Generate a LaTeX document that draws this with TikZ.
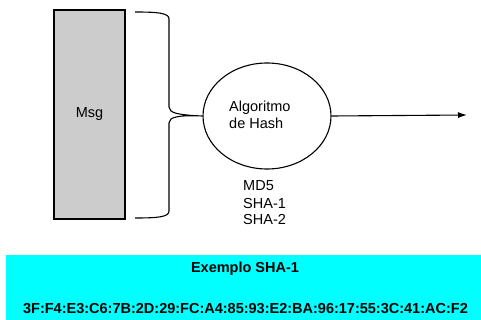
\documentclass[tikz,border=0pt]{standalone}
\usepackage{fontspec}
\setmainfont{Liberation Sans}
\usetikzlibrary{shapes.geometric,arrows.meta}
\definecolor{msggray}{HTML}{CCCCCC}
\definecolor{boxcyan}{HTML}{00FFFF}
\tikzset{
  every node/.style={font=\fontsize{14.5}{17}\selectfont, inner sep=0pt},
  ln/.style={line width=1.1pt, draw=black},
}
\begin{document}
\begin{tikzpicture}[x=1pt,y=-1pt]
\useasboundingbox (0,0) rectangle (481,320);

% message block
\node[ln, fill=msggray, minimum width=71pt, minimum height=209pt] (msg) at (89.5,114.5) {Msg};

% hash algorithm (multi-line nodes are placed by the baseline of their last line)
\node[ln, ellipse, minimum width=128pt, minimum height=106pt] (hash) at (267,116) {};
\node[anchor=base west, align=left] (alg) at (229,129) {Algoritmo\\de Hash};
\node[anchor=base west, align=left] (algs) at (243,225) {MD5\\SHA-1\\SHA-2};

% brace gathering the message into the algorithm
\coordinate (bt) at (135,12);
\coordinate (bb) at (135,218);
\draw[ln] (bt) .. controls (158,12) and (169,13) .. (169,19)
  -- (169,107) .. controls (169,113) and (178,115) .. (hash.west)
  .. controls (178,115) and (169,117) .. (169,123)
  -- (169,211) .. controls (169,217) and (158,218) .. (bb);

% output
\coordinate (out) at (467,115);
\draw[ln, -{Latex[length=9pt,width=6pt]}] (hash.east) -- (out);

% example digest
\fill[boxcyan] (6,255) rectangle (481,320);
\node[font=\fontsize{14.5}{17}\selectfont\bfseries, anchor=base] (ex) at (245,272) {Exemplo SHA-1};
\node[font=\fontsize{14.5}{17}\selectfont\bfseries, anchor=base] (dig) at (245.5,313) {3F:F4:E3:C6:7B:2D:29:FC:A4:85:93:E2:BA:96:17:55:3C:41:AC:F2};
\end{tikzpicture}
\end{document}
